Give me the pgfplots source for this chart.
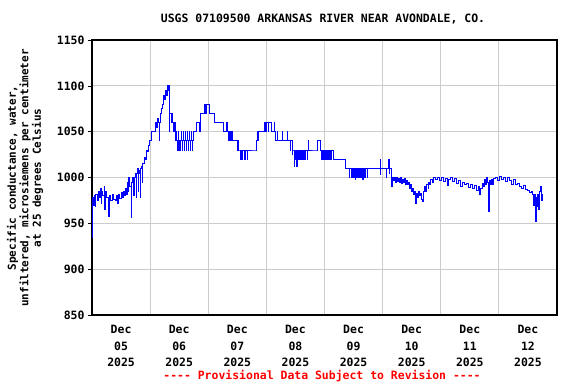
\documentclass[border=0pt]{standalone}
\usepackage{pgfplots}
\pgfplotsset{compat=1.18}
\usepackage{fontspec}
\setmainfont{DejaVu Sans Mono}
\setmonofont{DejaVu Sans Mono}
\definecolor{gridgray}{RGB}{204,204,204}
\definecolor{usgsblue}{RGB}{0,0,255}
\begin{document}
\begin{tikzpicture}
\useasboundingbox (0bp,0bp) rectangle (576bp,384bp);
\begin{axis}[
  at={(92bp,69bp)}, anchor=south west,
  scale only axis, width=465bp, height=275bp,
  xmin=0, xmax=8, ymin=850, ymax=1150,
  ytick={850,900,...,1150},
  xtick={0.5,1.5,2.5,3.5,4.5,5.5,6.5,7.5},
  xticklabels={{Dec\\05\\2025},{Dec\\06\\2025},{Dec\\07\\2025},{Dec\\08\\2025},{Dec\\09\\2025},{Dec\\10\\2025},{Dec\\11\\2025},{Dec\\12\\2025}},
  minor xtick={1,2,3,4,5,6,7},
  xminorgrids=true, ymajorgrids=true,
  grid style={draw=gridgray, line width=0.9bp},
  minor grid style={draw=gridgray, line width=0.9bp},
  major x tick style={draw=none},
  minor x tick style={draw=none},
  ytick pos=left, tick align=outside,
  major tick length=4bp,
  y tick style={black, line width=0.6bp},
  axis line style={black, line width=1.2bp},
  /pgf/number format/assume math mode=true,
  /pgf/number format/1000 sep={},
  yticklabel style={font=\ttfamily\bfseries\fontsize{11.5}{13}\selectfont},
  xticklabel style={align=center, font=\ttfamily\bfseries\fontsize{11.5}{16.5}\selectfont, yshift=-3bp},
]
\addplot[usgsblue, line width=0.8bp, no marks, const plot] coordinates {
(0.000,975)(0.004,935)(0.010,978)(0.030,970)(0.045,980)(0.060,968)(0.066,982)(0.090,975)
(0.110,985)(0.130,978)(0.150,988)(0.156,972)(0.162,985)(0.185,980)(0.215,990)(0.221,965)
(0.227,985)(0.250,978)(0.285,978)(0.290,958)(0.296,980)(0.320,975)(0.345,982)(0.370,976)
(0.400,975)(0.420,980)(0.445,972)(0.451,982)(0.475,977)(0.500,984)(0.520,978)(0.540,985)
(0.560,980)(0.575,988)(0.590,982)(0.605,995)(0.611,985)(0.630,1000)(0.636,990)(0.670,990)
(0.675,957)(0.681,995)(0.700,1000)(0.715,980)(0.721,1000)(0.740,1005)(0.758,978)(0.764,1005)
(0.775,1010)(0.790,985)(0.796,1005)(0.810,1008)(0.826,978)(0.832,1010)(0.848,1012)(0.865,995)
(0.870,1015)(0.890,1015)(0.900,1022)(0.917,1020)(0.934,1030)(0.952,1028)(0.969,1035)(0.986,1040)
(1.005,1040)(1.021,1050)(1.080,1050)(1.090,1060)(1.107,1055)(1.125,1065)(1.142,1060)(1.151,1040)
(1.156,1060)(1.176,1070)(1.194,1075)(1.211,1080)(1.228,1090)(1.246,1085)(1.263,1095)(1.280,1090)
(1.298,1100)(1.310,1095)(1.318,1100)(1.328,1050)(1.334,1070)(1.360,1060)(1.380,1070)(1.386,1060)
(1.405,1050)(1.411,1060)(1.430,1060)(1.436,1040)(1.441,1050)(1.453,1050)(1.458,1040)(1.475,1030)
(1.480,1040)(1.490,1050)(1.495,1040)(1.505,1030)(1.510,1040)(1.522,1030)(1.527,1040)(1.540,1050)
(1.545,1040)(1.557,1030)(1.562,1040)(1.574,1050)(1.579,1040)(1.592,1030)(1.597,1040)(1.609,1050)
(1.614,1040)(1.626,1030)(1.631,1040)(1.644,1050)(1.649,1040)(1.661,1030)(1.666,1040)(1.678,1050)
(1.683,1040)(1.696,1030)(1.701,1040)(1.713,1050)(1.718,1040)(1.730,1030)(1.735,1040)(1.747,1050)
(1.765,1050)(1.799,1060)(1.851,1050)(1.857,1060)(1.868,1070)(1.935,1070)(1.940,1080)(1.946,1070)
(1.960,1080)(2.000,1080)(2.024,1070)(2.100,1070)(2.105,1060)(2.249,1060)(2.266,1050)(2.300,1050)
(2.318,1060)(2.323,1050)(2.345,1050)(2.353,1040)(2.360,1050)(2.380,1050)(2.387,1040)(2.392,1050)
(2.410,1040)(2.491,1040)(2.505,1030)(2.512,1040)(2.517,1030)(2.540,1030)(2.546,1020)(2.551,1030)
(2.565,1020)(2.572,1030)(2.590,1020)(2.596,1030)(2.615,1020)(2.620,1030)(2.640,1020)(2.645,1030)
(2.665,1020)(2.670,1030)(2.820,1030)(2.837,1040)(2.850,1050)(2.860,1040)(2.866,1050)(2.941,1050)
(2.958,1060)(2.975,1050)(2.980,1060)(3.000,1050)(3.006,1060)(3.030,1060)(3.036,1050)(3.042,1060)
(3.060,1060)(3.080,1050)(3.125,1050)(3.131,1060)(3.137,1050)(3.160,1040)(3.180,1040)(3.186,1050)
(3.192,1040)(3.265,1040)(3.270,1050)(3.276,1040)(3.350,1040)(3.356,1050)(3.362,1040)(3.400,1040)
(3.408,1030)(3.414,1040)(3.426,1040)(3.440,1025)(3.446,1030)(3.470,1030)(3.476,1012)(3.482,1030)
(3.500,1030)(3.506,1020)(3.512,1030)(3.525,1012)(3.531,1030)(3.550,1030)(3.556,1020)(3.562,1030)
(3.580,1030)(3.586,1020)(3.592,1030)(3.610,1020)(3.616,1030)(3.640,1020)(3.646,1030)(3.670,1020)
(3.676,1030)(3.700,1020)(3.706,1030)(3.718,1040)(3.724,1030)(3.858,1030)(3.870,1040)(3.910,1040)
(3.927,1030)(3.945,1020)(3.950,1030)(3.970,1020)(3.976,1030)(3.995,1020)(4.001,1030)(4.020,1020)
(4.026,1030)(4.045,1020)(4.051,1030)(4.070,1020)(4.076,1030)(4.095,1020)(4.101,1030)(4.120,1020)
(4.126,1030)(4.150,1020)(4.343,1020)(4.360,1010)(4.430,1000)(4.436,1010)(4.455,1000)(4.461,1010)
(4.480,1000)(4.486,1010)(4.505,1000)(4.515,1010)(4.530,998)(4.536,1010)(4.555,1000)(4.561,1010)
(4.580,1000)(4.586,1010)(4.605,1000)(4.611,1010)(4.630,1000)(4.640,1010)(4.655,998)(4.661,1010)
(4.680,1000)(4.686,1010)(4.705,1000)(4.711,1010)(4.730,1000)(4.736,1010)(4.948,1010)(4.955,1003)
(4.961,1020)(4.967,1010)(5.052,1010)(5.060,1000)(5.066,1010)(5.100,1010)(5.104,1020)(5.110,1005)
(5.125,1010)(5.150,1010)(5.156,990)(5.162,1000)
(5.190,997)(5.208,1000)(5.225,995)(5.242,1000)(5.260,996)(5.277,999)(5.294,995)(5.311,1000)
(5.329,994)(5.346,998)(5.363,995)(5.381,999)(5.398,993)(5.415,997)(5.433,992)(5.450,995)
(5.467,988)(5.484,992)(5.502,985)(5.519,988)(5.536,982)(5.554,985)(5.571,972)(5.588,983)
(5.606,978)(5.623,985)(5.640,980)(5.657,983)(5.675,976)(5.692,974)(5.709,985)(5.727,990)
(5.744,985)(5.761,992)(5.779,988)(5.796,995)(5.813,993)(5.830,998)(5.848,995)(5.865,1000)
(5.900,998)(5.934,1000)(5.969,997)(6.003,1000)(6.038,996)(6.073,999)(6.107,991)(6.125,998)
(6.159,1000)(6.194,996)(6.228,999)(6.263,994)(6.298,997)(6.332,990)(6.367,995)(6.401,992)
(6.436,994)(6.471,989)(6.505,992)(6.540,988)(6.574,991)(6.609,986)(6.644,990)(6.661,982)
(6.678,988)(6.713,994)(6.730,990)(6.747,998)(6.765,993)(6.782,1000)(6.799,995)(6.817,963)
(6.834,997)(6.851,992)(6.868,998)(6.886,993)(6.903,999)(6.938,1000)(6.972,997)(7.007,1001)
(7.042,998)(7.076,1000)(7.111,996)(7.145,1000)(7.180,997)(7.215,993)(7.249,998)(7.284,992)
(7.318,994)(7.353,990)(7.388,988)(7.422,991)(7.457,987)(7.491,986)(7.526,984)(7.561,985)
(7.578,982)(7.595,970)(7.612,982)(7.630,952)(7.638,978)(7.647,968)(7.664,982)(7.682,965)
(7.699,985)(7.716,990)(7.733,975)(7.751,982)
};
\end{axis}
\node[font=\ttfamily\bfseries\fontsize{11.5}{13}\selectfont] at (323bp,365bp) {USGS 07109500 ARKANSAS RIVER NEAR AVONDALE, CO.};
\node[rotate=90, align=center, font=\ttfamily\bfseries\fontsize{11}{12.5}\selectfont] at (25bp,206bp) {Specific conductance, water,\\unfiltered, microsiemens per centimeter\\at 25 degrees Celsius};
\node[text=red, font=\ttfamily\bfseries\fontsize{11.5}{13}\selectfont] at (322bp,8bp) {---- Provisional Data Subject to Revision ----};
\end{tikzpicture}
\end{document}
